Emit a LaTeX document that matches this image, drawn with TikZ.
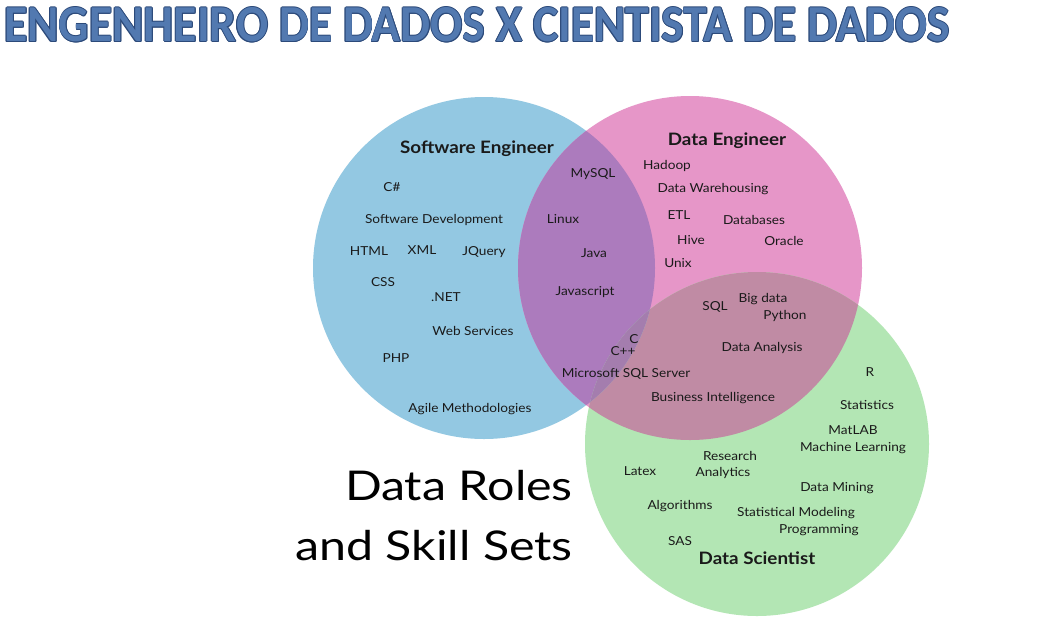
\documentclass[tikz,border=0pt]{standalone}
\usepackage{fontspec}
\setmainfont{Lato}
\newfontfamily\lblfont[FakeStretch=1.1]{Lato}
\newfontfamily\bigfont[FakeStretch=1.18]{Lato}
\newfontfamily\titlefont{Carlito}
\definecolor{cblue}{HTML}{93C8E2}
\definecolor{cpink}{HTML}{E696C8}
\definecolor{cgreen}{HTML}{B3E6B4}
\definecolor{cbp}{HTML}{AC7BBD}
\definecolor{cpg}{HTML}{C08BA4}
\definecolor{cbg}{HTML}{A4C9C4}
\definecolor{ctri}{HTML}{A47DAE}
\definecolor{ctitle}{HTML}{5279B0}
\definecolor{ctitleedge}{HTML}{2C4A7A}
\definecolor{ctext}{HTML}{1A1A1A}
\newcommand{\titletxt}{\resizebox{945pt}{34pt}{\titlefont\bfseries ENGENHEIRO DE DADOS X CIENTISTA DE DADOS}}
\begin{document}
\begin{tikzpicture}[x=1pt,y=-1pt,
  lbl/.style={font=\lblfont\fontsize{12.4}{14}\selectfont, text=ctext, inner sep=0pt, yshift=-1.5pt},
  role/.style={font=\lblfont\bfseries\fontsize{17.1}{19}\selectfont, text=ctext, inner sep=0pt, yshift=-1.5pt},
  big/.style={font=\bigfont\fontsize{41}{50}\selectfont, text=black, inner sep=0pt, anchor=base east},
  ttl/.style={inner sep=0pt}]
\useasboundingbox (0,0) rectangle (1049,633);
\fill[white] (0,0) rectangle (1049,633);
% title
\foreach \dx/\dy [count=\i] in {0.9/0,-0.9/0,0/0.9,0/-0.9,0.65/0.65,-0.65/0.65,0.65/-0.65,-0.65/-0.65}
  \node[ttl, text=ctitleedge] (te\i) at (477+\dx,25+\dy) {\titletxt};
\node[ttl, text=ctitle] (title) at (477,25) {\titletxt};
% circles
\coordinate (cB) at (484,268);
\coordinate (cP) at (690,268);
\coordinate (cG) at (757,444);
\fill[cblue] (cB) circle[radius=171pt];
\fill[cpink] (cP) circle[radius=172pt];
\fill[cgreen] (cG) circle[radius=172pt];
\begin{scope}\clip (cB) circle[radius=171pt]; \fill[cbp] (cP) circle[radius=172pt];\end{scope}
\begin{scope}\clip (cP) circle[radius=172pt]; \fill[cpg] (cG) circle[radius=172pt];\end{scope}
\begin{scope}\clip (cB) circle[radius=171pt]; \fill[cbg] (cG) circle[radius=172pt];\end{scope}
\begin{scope}\clip (cB) circle[radius=171pt]; \clip (cP) circle[radius=172pt]; \fill[ctri] (cG) circle[radius=172pt];\end{scope}
% Software engineer
\node[role] (se) at (477,147) {Software Engineer};
\node[lbl] (s1) at (392,186) {C\#};
\node[lbl] (s2) at (434,218) {Software Development};
\node[lbl] (s3) at (369,250) {HTML};
\node[lbl] (s4) at (422,249) {XML};
\node[lbl] (s5) at (484,251) {JQuery};
\node[lbl] (s6) at (383,281) {CSS};
\node[lbl] (s7) at (446,296) {.NET};
\node[lbl] (s8) at (473,329) {Web Services};
\node[lbl] (s9) at (396,357) {PHP};
\node[lbl] (s10) at (470,408) {Agile Methodologies};
% SE and DE
\node[lbl] (b1) at (593,173) {MySQL};
\node[lbl] (b2) at (563,218) {Linux};
\node[lbl] (b3) at (594,252) {Java};
\node[lbl] (b4) at (585,291) {Javascript};
\node[lbl] (b5) at (634,338) {C};
\node[lbl] (b6) at (623,350) {C++};
\node[lbl] (b7) at (626,372) {Microsoft SQL Server};
% Data engineer
\node[role] (de) at (727,139) {Data Engineer};
\node[lbl] (d1) at (667,164) {Hadoop};
\node[lbl] (d2) at (713,188) {Data Warehousing};
\node[lbl] (d3) at (679,214) {ETL};
\node[lbl] (d4) at (754,218) {Databases};
\node[lbl] (d5) at (691,239) {Hive};
\node[lbl] (d6) at (784,239) {Oracle};
\node[lbl] (d7) at (678,262) {Unix};
% DE and DS
\node[lbl] (p1) at (715,305) {SQL};
\node[lbl] (p2) at (763,298) {Big data};
\node[lbl] (p3) at (785,314) {Python};
\node[lbl] (p4) at (762,346) {Data Analysis};
\node[lbl] (p5) at (713,397) {Business Intelligence};
% Data scientist
\node[lbl] (g1) at (870,371) {R};
\node[lbl] (g2) at (867,403) {Statistics};
\node[lbl] (g3) at (853,429) {MatLAB};
\node[lbl] (g4) at (853,447) {Machine Learning};
\node[lbl] (g5) at (730,454) {Research};
\node[lbl] (g6) at (723,471) {Analytics};
\node[lbl] (g7) at (640,470) {Latex};
\node[lbl] (g8) at (837,487) {Data Mining};
\node[lbl] (g9) at (680,505) {Algorithms};
\node[lbl] (g10) at (796,512) {Statistical Modeling};
\node[lbl] (g11) at (819,529) {Programming};
\node[lbl] (g12) at (680,540) {SAS};
\node[role] (ds) at (757,557) {Data Scientist};
% big caption
\node[big] (cap1) at (573,500) {Data Roles};
\node[big] (cap2) at (573,560) {and Skill Sets};
\end{tikzpicture}
\end{document}
